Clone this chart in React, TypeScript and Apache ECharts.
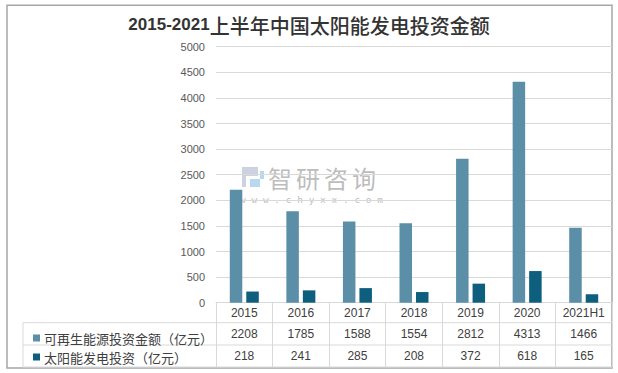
import React, { useEffect, useRef } from "react";
import * as echarts from "echarts";

const titleYears = "2015-2021";
const titleRest = "上半年中国太阳能发电投资金额";
const categories = ["2015", "2016", "2017", "2018", "2019", "2020", "2021H1"];
const renewableName = "可再生能源投资金额（亿元）";
const solarName = "太阳能发电投资（亿元）";
const renewableValues = [2208, 1785, 1588, 1554, 2812, 4313, 1466];
const solarValues = [218, 241, 285, 208, 372, 618, 165];
const yMin = 0;
const yMax = 5000;
const yInterval = 500;
const watermarkChars = ["智", "研", "咨", "询"];
const watermarkUrl = "www.chyxx.com";

const LIGHT = "#5b8fa7";
const DARK = "#0e5e7d";
const TABLE_LINE = "#d9d9d9";
const TEXT = "#404040";

export default function App() {
  const ref = useRef<HTMLDivElement>(null);
  useEffect(() => {
    if (!ref.current) return;
    const chart = echarts.init(ref.current, undefined, { renderer: "svg" });
    const gridLeft = 216;
    const gridRight = 612;
    const axisY = 302.7;
    const row1 = 322.7;
    const row2 = 345;
    const row3 = 367;
    const tableLeft = 23;
    const lineStyle = { stroke: TABLE_LINE, lineWidth: 1 };
    const hLine = (y: number, x1: number) => ({
      type: "line",
      shape: { x1, y1: y, x2: gridRight, y2: y },
      style: lineStyle,
      silent: true,
    });
    const rowLabel = {
      margin: 4,
      fontSize: 12,
      color: TEXT,
      fontFamily: "Liberation Sans",
      interval: 0,
    };
    chart.setOption({
      animation: false,
      backgroundColor: "#ffffff",
      title: {
        text: "{a|" + titleYears + "}{b|" + titleRest + "}",
        left: "center",
        top: 10,
        textStyle: {
          rich: {
            a: {
              fontSize: 17,
              fontWeight: "bold",
              fontFamily: "Liberation Sans",
              color: "#333333",
            },
            b: {
              fontSize: 20,
              fontWeight: 500,
              fontFamily: "Noto Sans CJK SC",
              color: "#333333",
            },
          },
        },
      },
      legend: {
        orient: "vertical",
        left: 28,
        top: 326,
        itemWidth: 7,
        itemHeight: 7,
        itemGap: 5,
        icon: "rect",
        selectedMode: false,
        textStyle: {
          fontSize: 13,
          lineHeight: 14,
          color: TEXT,
          fontFamily: "Noto Sans CJK SC",
          padding: [0, 0, 0, -1],
        },
        data: [renewableName, solarName],
      },
      grid: {
        left: gridLeft,
        right: 618 - gridRight,
        top: 46.7,
        bottom: 373 - axisY,
        containLabel: false,
      },
      xAxis: [
        {
          type: "category",
          data: categories,
          axisLine: { show: true, lineStyle: { color: TABLE_LINE, width: 1 } },
          axisTick: { show: true, length: row3 - axisY, lineStyle: { color: TABLE_LINE } },
          axisLabel: rowLabel,
        },
        {
          type: "category",
          gridIndex: 0,
          position: "bottom",
          offset: 21.5,
          data: renewableValues.map(String),
          axisLine: { show: false },
          axisTick: { show: false },
          axisLabel: rowLabel,
        },
        {
          type: "category",
          gridIndex: 0,
          position: "bottom",
          offset: 43.5,
          data: solarValues.map(String),
          axisLine: { show: false },
          axisTick: { show: false },
          axisLabel: rowLabel,
        },
      ],
      yAxis: {
        type: "value",
        min: yMin,
        max: yMax,
        interval: yInterval,
        axisLine: { show: false },
        axisTick: { show: false },
        axisLabel: {
          margin: 11,
          fontSize: 11,
          color: "#595959",
          fontFamily: "Liberation Sans",
          formatter: (v: number) => String(v),
        },
        splitLine: { lineStyle: { color: TABLE_LINE, width: 1 } },
      },
      series: [
        {
          name: renewableName,
          type: "bar",
          data: renewableValues,
          barWidth: 12.5,
          barGap: "32%",
          itemStyle: { color: LIGHT },
        },
        {
          name: solarName,
          type: "bar",
          data: solarValues,
          barWidth: 12.5,
          barGap: "32%",
          itemStyle: { color: DARK },
        },
      ],
      graphic: [
        {
          type: "rect",
          shape: { x: 7, y: 5.3, width: 605, height: 362.7 },
          style: { fill: "none", stroke: "#a6a6a6", lineWidth: 1.5 },
          silent: true,
        },
        hLine(row1, tableLeft),
        hLine(row2, tableLeft),
        hLine(row3, tableLeft),
        {
          type: "line",
          shape: { x1: tableLeft, y1: row1, x2: tableLeft, y2: row3 },
          style: lineStyle,
          silent: true,
        },
        // watermark
        {
          type: "group",
          silent: true,
          z: 100,
          children: [
            {
              type: "polygon",
              shape: {
                points: [
                  [242, 167],
                  [258, 167],
                  [258, 176],
                  [246, 176],
                  [246, 187],
                  [242, 187],
                ],
              },
              style: { fill: "#c3cadb", opacity: 0.85 },
            },
            {
              type: "polygon",
              shape: {
                points: [
                  [250, 179],
                  [264, 179],
                  [264, 171],
                  [260, 171],
                  [260, 187],
                  [250, 187],
                ],
              },
              style: { fill: "#a9d2ef", opacity: 0.85 },
            },
            ...watermarkChars.map((ch, i) => ({
              type: "text",
              x: 268 + i * 28,
              y: 177,
              style: {
                text: ch,
                fontSize: 24,
                fontFamily: "Noto Sans CJK SC",
                fill: "#b4b4b4",
                opacity: 0.9,
                verticalAlign: "middle",
              },
            })),
            {
              type: "text",
              x: 240,
              y: 199,
              style: {
                text: watermarkUrl.split("").join(" "),
                fontSize: 9.5,
                fontFamily: "DejaVu Sans Mono",
                fill: "#bdbdbd",
                verticalAlign: "middle",
              },
            },
          ],
        },
      ],
    });
    return () => chart.dispose();
  }, []);
  return (
    <div
      ref={ref}
      style={{ position: "fixed", left: 0, top: 0, width: 618, height: 373 }}
    />
  );
}
